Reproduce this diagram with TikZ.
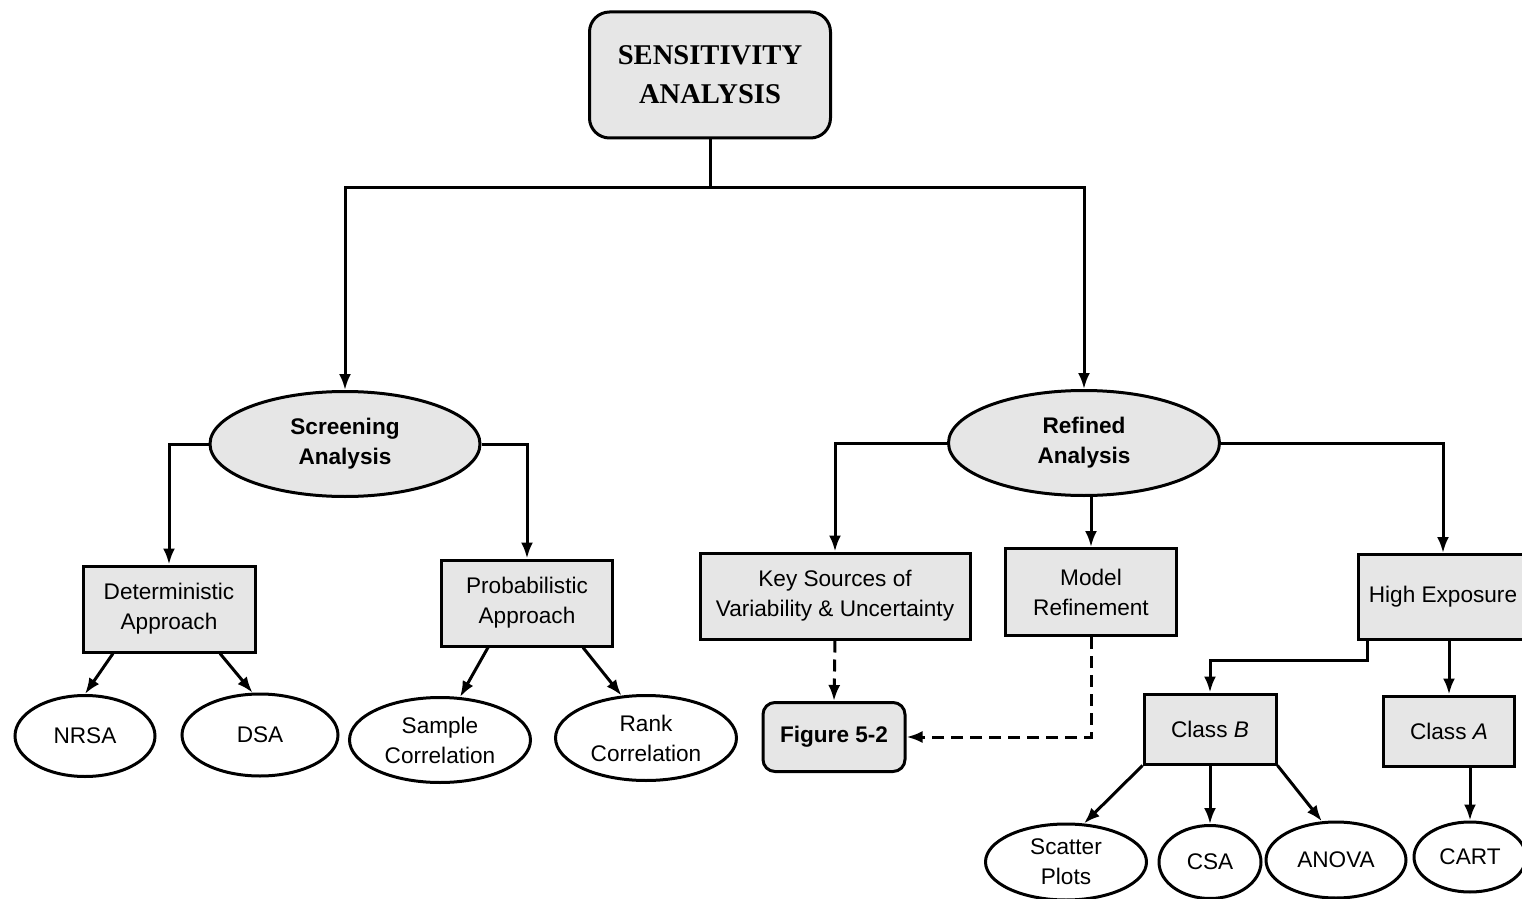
\documentclass[tikz,border=0pt]{standalone}
\usepackage{fontspec}
\setmainfont{Liberation Sans}
\newfontfamily\titlefont{Liberation Serif}
\usetikzlibrary{shapes.geometric,arrows.meta,calc}
\definecolor{boxgray}{HTML}{E6E6E6}
\tikzset{
  x=0.5pt, y=-0.5pt,
  every node/.style={font=\fontsize{11.3}{15}\selectfont, align=center},
  box/.style={rectangle, draw, line width=1.5pt, fill=boxgray, inner sep=0pt},
  rbox/.style={box, rounded corners=#1},
  goval/.style={ellipse, draw, line width=1.5pt, fill=boxgray, inner sep=-8pt,
                font=\fontsize{11.3}{15}\selectfont\bfseries},
  oval/.style={ellipse, draw, line width=1.5pt, fill=white, inner sep=-8pt},
  link/.style={line width=1.5pt},
  arrow/.style={link, -{Latex[length=8pt,width=6pt]}},
  dasharrow/.style={arrow, dash pattern=on 6pt off 3.5pt},
}
\begin{document}
\begin{tikzpicture}
\useasboundingbox (0,0) rectangle (1522,899);

% root
\node[rbox=10pt, minimum width=120.5pt, minimum height=63pt,
      font=\fontsize{14.3}{19.5}\selectfont\titlefont\bfseries] (top) at (710,75)
      {SENSITIVITY\\ANALYSIS};

% second level
\node[goval, minimum width=135pt, minimum height=52.5pt] (scr) at (345,444) {Screening\\Analysis};
\node[goval, minimum width=135.5pt, minimum height=52.5pt] (ref) at (1084,443) {Refined\\Analysis};

% screening branch
\node[box, minimum width=86pt, minimum height=43pt] (det) at (169,609) {Deterministic\\Approach};
\node[box, minimum width=85.5pt, minimum height=43pt] (prob) at (527,603) {Probabilistic\\Approach};
\node[oval, minimum width=70pt, minimum height=40.5pt] (nrsa) at (85,736) {NRSA};
\node[oval, minimum width=78pt, minimum height=41pt] (dsa) at (260,735) {DSA};
\node[oval, minimum width=90.5pt, minimum height=42.5pt] (samp) at (440,740) {Sample\\Correlation};
\node[oval, minimum width=90.5pt, minimum height=42.5pt] (rank) at (646,738) {Rank\\Correlation};

% refined branch
\node[box, minimum width=135pt, minimum height=43pt] (key) at (835,596) {Key Sources of\\Variability \& Uncertainty};
\node[box, minimum width=85.5pt, minimum height=43.5pt] (model) at (1091,592) {Model\\Refinement};
\node[rbox=6pt, minimum width=71pt, minimum height=34.5pt, font=\fontsize{11.3}{15}\selectfont\bfseries] (fig) at (834,737) {Figure 5-2};
\node[box, minimum width=85pt, minimum height=42.5pt] (high) at (1443,597) {High Exposure};
\node[box, minimum width=66pt, minimum height=35pt] (clB) at (1210,729) {Class \textit{B}};
\node[box, minimum width=65.5pt, minimum height=35pt] (clA) at (1449,731) {Class \textit{A}};
\node[oval, minimum width=80.5pt, minimum height=38pt] (scat) at (1066,862) {Scatter\\Plots};
\node[oval, minimum width=51pt, minimum height=36.5pt] (csa) at (1210,862) {CSA};
\node[oval, minimum width=70pt, minimum height=38pt] (anova) at (1336,860) {ANOVA};
\node[oval, minimum width=56pt, minimum height=35pt] (cart) at (1470,857) {CART};

% root to the two analyses
\coordinate (hub) at (710,188);
\draw[link] (top) -- (hub);
\draw[arrow] (hub) -| (scr.north);
\draw[arrow] (hub) -| (ref.north);

% screening connectors
\draw[arrow] (scr.west) -| (det.north);
\draw[arrow] (scr.east) -| (prob.north);
\draw[arrow] ($(det.south)+(-56,0)$) -- (nrsa.north);
\draw[arrow] ($(det.south)+(51,0)$) -- (dsa.100);
\draw[arrow] ($(prob.south)+(-39,0)$) -- (samp.65);
\draw[arrow] ($(prob.south)+(56,0)$) -- (rank.120);

% refined connectors
\draw[arrow] (ref.west) -| (key.north);
\draw[arrow] (ref.east) -| (high.north);
\draw[arrow] (ref.south -| model.north) -- (model.north);
\draw[dasharrow] (key.south) -- (fig.north);
\draw[dasharrow] (model.south) |- (fig.east);
\draw[arrow] ($(high.south west)+(11,0)$) -- ++(0,19) -| (clB.north);
\draw[arrow] (high.south -| clA.north) -- (clA.north);
\draw[arrow] ($(clA.south)+(21,0)$) -- (cart.north);
\draw[arrow] (clB.south west) -- (scat.65);
\draw[arrow] (clB.south) -- (csa.north);
\draw[arrow] (clB.south east) -- (anova.110);
\end{tikzpicture}
\end{document}
